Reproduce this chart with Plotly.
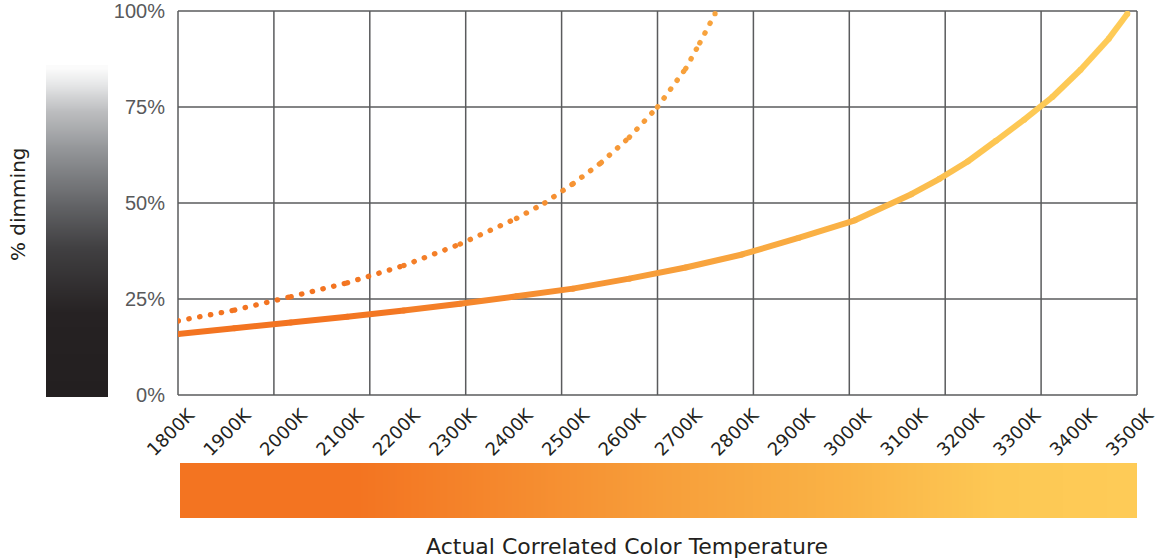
import plotly.graph_objects as go
from plotly.colors import sample_colorscale

# ---- data ----
cct_ticks = [1800, 1900, 2000, 2100, 2200, 2300, 2400, 2500, 2600, 2700,
             2800, 2900, 3000, 3100, 3200, 3300, 3400, 3500]
tick_labels = [f"{k}K" for k in cct_ticks]

solid_cct = [1800, 1900, 2000, 2100, 2200, 2300, 2400, 2500, 2600, 2700,
             2800, 2900, 3000, 3100, 3150, 3200, 3250, 3300, 3350, 3400, 3450, 3483]
solid_pct = [15.9, 17.4, 18.9, 20.4, 22.0, 23.75, 25.7, 27.7, 30.3, 33.2,
             36.6, 40.9, 45.5, 52.3, 56.3, 60.8, 66.2, 71.7, 77.6, 84.7, 92.8, 99.3]

dotted_cct = [1800, 1900, 2000, 2100, 2200, 2300, 2400, 2450, 2500, 2550,
              2600, 2650, 2700, 2725, 2752]
dotted_pct = [19.3, 22.1, 25.6, 29.2, 33.7, 39.3, 46.0, 50.0, 55.0, 60.5,
              67.1, 75.0, 85.0, 91.7, 99.3]

y_tickvals = [0, 25, 50, 75, 100]
y_ticktext = ["0%", "25%", "50%", "75%", "100%"]

# ---- styles ----
W, H = 1156, 560
PX0, PX1, PY0, PY1 = 178, 1137, 11, 395   # plot area in pixels
GRID = "#5A5B5D"
ORANGE_SCALE = [[0, "#F37421"], [0.18, "#F37421"], [0.5, "#F79E3A"],
                [0.7, "#FAB346"], [0.86, "#FDC854"], [1, "#FECB57"]]
GREY_SCALE = [[0, "#231F20"], [0.25, "#262223"], [0.45, "#414042"],
              [0.58, "#626366"], [0.75, "#939598"], [0.87, "#BDBEC0"],
              [0.95, "#E6E7E8"], [1, "#FBFBFB"]]
KMIN, KMAX = 1800, 3500
DOT = 5.3


def px_x(p):
    return p / W


def px_y(p):
    return 1 - p / H


def color_at(k):
    return sample_colorscale(ORANGE_SCALE, [(k - KMIN) / (KMAX - KMIN)])[0]


fig = go.Figure()

# solid curve: gradient by segments
for i in range(len(solid_cct) - 1):
    km = (solid_cct[i] + solid_cct[i + 1]) / 2
    fig.add_trace(go.Scatter(x=solid_cct[i:i + 2], y=solid_pct[i:i + 2], mode="lines",
                             line=dict(color=color_at(km), width=6),
                             hoverinfo="skip", showlegend=False))
fig.add_trace(go.Scatter(x=solid_cct, y=solid_pct, mode="markers",
                         marker=dict(size=6, color=[color_at(k) for k in solid_cct],
                                     line=dict(width=0)),
                         hoverinfo="skip", showlegend=False))

# dotted curve (round caps applied after render -> round dots)
for i in range(len(dotted_cct) - 1):
    km = (dotted_cct[i] + dotted_cct[i + 1]) / 2
    fig.add_trace(go.Scatter(x=dotted_cct[i:i + 2], y=dotted_pct[i:i + 2], mode="lines",
                             line=dict(color=color_at(km), width=DOT, dash="0.4px,10.6px"),
                             hoverinfo="skip", showlegend=False))
ends = [0, len(dotted_cct) - 1]
fig.add_trace(go.Scatter(x=[dotted_cct[i] for i in ends], y=[dotted_pct[i] for i in ends],
                         mode="markers",
                         marker=dict(size=DOT, color=[color_at(dotted_cct[i]) for i in ends],
                                     line=dict(width=0)),
                         hoverinfo="skip", showlegend=False))

# grey gradient bar (left)
n = 60
fig.add_trace(go.Heatmap(z=[[i / (n - 1), i / (n - 1)] for i in range(n)],
                         x=[0, 1], y=list(range(n)),
                         colorscale=GREY_SCALE, zmin=0, zmax=1, showscale=False,
                         zsmooth="best", hoverinfo="skip", xaxis="x2", yaxis="y2"))
# orange gradient bar (bottom)
fig.add_trace(go.Heatmap(z=[[i / (n - 1) for i in range(n)]] * 2,
                         x=list(range(n)), y=[0, 1],
                         colorscale=ORANGE_SCALE, zmin=0, zmax=1, showscale=False,
                         zsmooth="best", hoverinfo="skip", xaxis="x3", yaxis="y3"))

# grid: 10 columns x 4 rows
shapes = []
for k in range(11):
    shapes.append(dict(type="line", xref="x domain", yref="y domain",
                       x0=k / 10, x1=k / 10, y0=0, y1=1,
                       line=dict(color=GRID, width=1.5), layer="below"))
for k in range(5):
    shapes.append(dict(type="line", xref="x domain", yref="y domain",
                       x0=0, x1=1, y0=k / 4, y1=k / 4,
                       line=dict(color=GRID, width=1.5), layer="below"))

hidden = dict(visible=False, showgrid=False, zeroline=False, fixedrange=True,
              automargin=False)

fig.update_layout(
    width=W, height=H,
    margin=dict(l=0, r=0, t=0, b=0, autoexpand=False),
    paper_bgcolor="white", plot_bgcolor="white",
    showlegend=False,
    shapes=shapes,
    xaxis=dict(domain=[px_x(PX0), px_x(PX1)], range=[KMIN, KMAX],
               tickmode="array", tickvals=cct_ticks, ticktext=tick_labels,
               tickangle=-45, showgrid=False, zeroline=False, ticks="",
               ticklabelshift=11, ticklabelstandoff=5, automargin=False,
               ticklabeloverflow="allow", fixedrange=True,
               tickfont=dict(family="DejaVu Sans", size=18, color="#231F20")),
    yaxis=dict(domain=[px_y(PY1), px_y(PY0)], range=[0, 100],
               tickmode="array", tickvals=y_tickvals, ticktext=y_ticktext,
               showgrid=False, zeroline=False, ticks="", ticklabelstandoff=12,
               automargin=False, ticklabeloverflow="allow", fixedrange=True,
               tickfont=dict(family="Liberation Sans", size=20, color="#58595B")),
    xaxis2=dict(domain=[px_x(46), px_x(108)], anchor="y2", **hidden),
    yaxis2=dict(domain=[px_y(397), px_y(65)], anchor="x2", **hidden),
    xaxis3=dict(domain=[px_x(180), px_x(1137)], anchor="y3", **hidden),
    yaxis3=dict(domain=[px_y(518), px_y(463)], anchor="x3", **hidden),
    annotations=[
        dict(text="Actual Correlated Color Temperature", xref="paper", yref="paper",
             x=px_x(627), y=px_y(546), xanchor="center", yanchor="middle",
             showarrow=False, font=dict(family="DejaVu Sans", size=22, color="#231F20")),
        dict(text="% dimming", xref="paper", yref="paper",
             x=px_x(18), y=px_y(204), xanchor="center", yanchor="middle",
             textangle=-90, showarrow=False,
             font=dict(family="DejaVu Sans", size=20, color="#231F20")),
    ],
)

post = (
    "document.body.style.margin='0';document.body.style.overflow='hidden';"
    "document.querySelectorAll('.scatterlayer .trace path.js-line').forEach(function(p){"
    "var d=p.style.strokeDasharray; if(d && d!=='none'){p.style.strokeLinecap='round';}});"
)
fig.write_html("out.html", config={"displayModeBar": False}, post_script=post)
